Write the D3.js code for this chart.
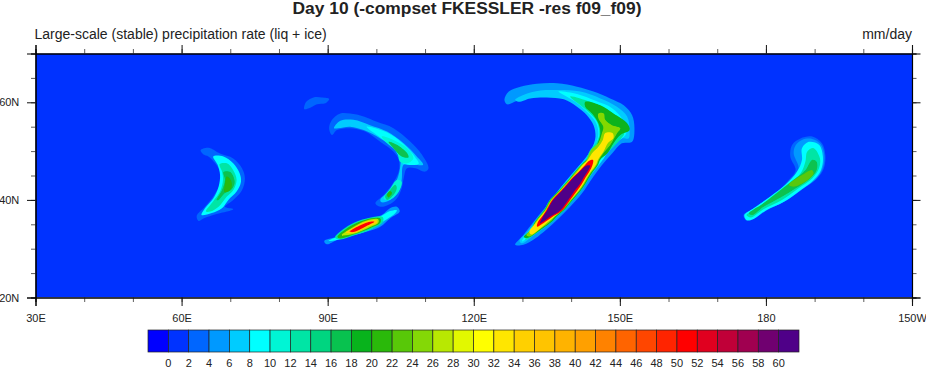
<!DOCTYPE html>
<html>
<head>
<meta charset="utf-8">
<script src="https://cdn.jsdelivr.net/npm/d3@7"></script>
<style>
  html, body { margin: 0; padding: 0; background: #fff; }
  svg { display: block; }
  text { font-family: "Liberation Sans", Arial, sans-serif; fill: #222; }
</style>
</head>
<body>
<div id="chart"></div>
<script>
// contour level edges printed on the label bar
const barLabels = d3.range(0, 62, 2);
const boxColors = ['#0000ff', '#0033ff', '#0066ff', '#0099ff', '#00ccff', '#00ffff', '#00f5d5', '#00e5a5',
  '#00d580', '#08c24f', '#08b31c', '#2ab90a', '#58c808', '#84d806', '#b8e802', '#e2f800',
  '#ffff00', '#ffe600', '#ffd000', '#ffc400', '#ffb300', '#ffa000', '#ff8200', '#ff6400',
  '#ff4600', '#ff2400', '#ff0000', '#e0001f', '#c00038', '#a00050', '#700070', '#4f0088'];

const lonMajor = [30, 60, 90, 120, 150, 180, 210];
const lonLabels = ['30E', '60E', '90E', '120E', '150E', '180', '150W'];
const latMajor = [20, 40, 60];
const latLabels = ['20N', '40N', '60N'];

// filled contours, [lon, lat]
const crescent2 = [[63.9,50.2],[65.5,50.7],[67.9,49.5],[70.6,48.5],[72.4,46.5],[73.0,44.4],[72.4,42.0],[70.6,40.0],[68.9,38.6],[70.6,38.1],[67.2,37.1],[64.5,36.2],[63.5,35.7],[63.1,36.7],[64.8,38.6],[66.5,40.7],[67.9,43.4],[67.9,45.8],[66.9,47.5],[65.5,48.9],[64.5,49.3]];
const crescent8 = [[66.5,48.9],[68.6,48.9],[70.6,47.5],[71.9,45.5],[72.2,43.7],[71.3,41.7],[69.6,40.0],[68.3,38.3],[66.2,37.3],[64.1,36.9],[64.8,38.3],[66.5,40.3],[67.6,42.7],[67.9,45.1],[67.4,47.2]];
const crescent12 = [[67.8,47.3],[69.3,47.5],[70.6,46.1],[71.3,44.1],[70.6,42.0],[69.3,40.7],[67.6,38.6],[65.9,37.6],[65.0,37.6],[66.5,39.7],[67.9,41.7],[68.5,44.1],[68.3,45.8]];
const crescent16 = [[68.6,45.7],[70.0,45.7],[70.9,43.7],[70.3,42.2],[68.9,41.4],[67.6,40.0],[67.2,40.0],[68.3,42.0],[68.9,44.1]];
const crescent20 = [[69.3,44.8],[70.1,44.1],[70.3,42.7],[69.6,41.7],[68.8,41.6],[68.9,43.1]];

const patch2 = [[85.2,58.6],[85.6,60.1],[87.1,61.0],[88.8,61.0],[90.3,60.7],[89.5,59.8],[87.8,59.6],[86.4,58.9]];

const arc2 = [[90.3,54.7],[90.9,56.4],[92.6,57.7],[94.6,57.7],[97.4,57.1],[100.1,56.0],[103.5,54.7],[107.0,51.9],[109.4,49.2],[110.7,46.5],[110.0,45.8],[108.0,46.5],[106.3,46.5],[105.6,44.4],[105.2,42.4],[104.2,40.3],[102.5,39.0],[100.8,38.6],[99.8,39.3],[101.5,41.0],[103.2,43.1],[104.6,45.8],[104.6,48.2],[103.5,49.9],[100.8,51.9],[97.7,54.0],[94.6,54.7],[91.9,54.3],[90.9,53.3]];
const arc6 = [[91.3,54.7],[92.6,56.2],[95.3,56.4],[98.7,55.3],[102.2,54.0],[105.6,51.6],[108.3,48.9],[109.6,47.2],[107.6,47.2],[105.6,47.2],[105.2,44.1],[104.6,41.7],[102.8,40.0],[101.1,39.5],[100.8,40.0],[102.5,41.7],[104.2,44.1],[104.9,46.8],[104.9,48.5],[103.5,50.6],[100.8,52.6],[97.4,54.3],[94.6,55.0],[92.2,54.7]];
const arc9 = [[98.0,55.0],[102.2,53.8],[105.6,51.4],[108.0,48.7],[108.7,47.4],[105.6,47.4],[104.9,48.4],[103.5,50.7],[100.8,52.8]];
const arc10 = [[101.1,53.0],[103.5,52.3],[106.3,50.6],[107.6,48.5],[106.3,47.5],[104.9,47.8],[104.2,49.9],[102.2,51.6]];
const arc16 = [[102.5,51.9],[104.2,51.3],[106.3,49.6],[106.6,48.7],[105.2,48.9],[103.5,50.6]];
const knot10 = [[101.5,40.3],[102.9,42.4],[104.2,44.1],[105.2,43.7],[104.6,41.7],[102.8,40.0]];
const knot14 = [[101.8,40.7],[102.8,42.0],[103.9,43.1],[104.2,42.4],[103.5,41.0],[102.2,40.0]];
const knot20 = [[102.2,41.0],[102.8,41.8],[103.2,41.4],[102.5,40.5]];

const streak4 = [[89.3,31.6],[91.9,32.5],[93.9,34.2],[96.0,35.5],[98.7,36.2],[101.1,36.9],[102.8,38.3],[104.2,38.6],[104.8,37.6],[102.8,36.2],[100.8,34.5],[98.1,33.5],[94.6,32.5],[91.9,31.8],[89.8,30.9]];
const streak8 = [[90.2,31.6],[92.6,32.8],[94.6,34.5],[97.4,35.9],[100.8,36.6],[102.8,37.7],[104.2,37.9],[103.9,37.3],[101.5,35.6],[98.7,33.9],[95.3,32.8],[91.9,31.8]];
const streak12 = [[91.5,32.3],[94.6,34.9],[98.0,36.2],[101.3,36.5],[101.3,35.4],[98.7,33.9],[95.3,32.7],[92.6,31.9]];
const streak20 = [[92.0,32.4],[94.6,34.6],[98.0,36.0],[100.8,36.2],[100.8,35.3],[98.7,34.2],[95.3,32.9],[92.6,32.1]];
const streak26 = [[92.9,32.8],[95.0,34.3],[98.0,35.8],[100.4,36.0],[100.4,35.3],[98.4,34.3],[95.2,33.0]];
const streak34 = [[93.7,33.3],[95.3,34.3],[98.0,35.6],[100.1,35.8],[100.1,35.3],[98.2,34.5],[95.3,33.2]];
const streak50 = [[94.5,33.5],[96.1,34.5],[98.7,35.5],[99.6,35.5],[97.9,34.6],[95.3,33.4]];

const hook4 = [[128.5,30.8],[130.2,32.8],[132.3,35.5],[134.0,37.6],[135.7,39.6],[137.4,42.0],[139.5,44.4],[141.5,46.8],[143.6,49.5],[144.6,51.3],[145.3,53.6],[145.0,55.7],[143.6,57.7],[141.2,59.4],[138.5,60.8],[135.0,61.3],[131.6,61.2],[128.9,60.3],[126.8,59.6],[126.3,60.5],[127.2,62.2],[129.6,63.2],[133.0,63.8],[137.1,63.9],[141.2,63.2],[144.6,62.2],[148.0,60.8],[150.8,59.4],[152.5,57.4],[153.0,54.7],[152.5,51.9],[150.4,51.6],[148.4,49.5],[146.3,47.1],[144.3,44.4],[142.2,41.3],[139.8,38.6],[137.4,36.2],[135.0,34.0],[132.6,32.1],[130.2,30.8]];
const hook6 = [[128.5,60.5],[130.2,61.5],[133.7,62.4],[137.4,62.5],[141.9,62.2],[146.0,60.8],[149.4,59.1],[151.5,57.1],[152.0,54.3],[151.8,52.6],[150.4,52.6],[148.0,50.2],[146.0,47.8],[143.9,45.1],[141.9,42.4],[139.5,39.6],[137.1,36.9],[134.7,34.5],[132.3,32.8],[129.9,31.1],[129.4,31.6],[131.3,33.8],[133.3,36.2],[135.0,38.6],[136.7,41.0],[138.8,43.7],[140.8,46.1],[142.9,48.5],[144.3,50.6],[145.0,53.0],[144.6,55.3],[143.2,57.4],[141.2,59.1],[138.5,60.6],[135.0,61.0],[131.6,60.8],[129.2,60.1]];
const hook9 = [[137.4,62.2],[141.2,61.7],[145.0,60.3],[148.4,58.8],[150.6,56.4],[151.3,53.6],[150.4,52.6],[148.4,51.3],[146.7,48.5],[144.6,45.8],[142.2,42.7],[139.8,39.6],[137.4,37.1],[134.7,34.6],[131.9,32.7],[129.9,31.5],[131.6,34.0],[133.7,36.6],[135.4,38.7],[137.1,41.2],[139.1,43.7],[141.2,46.1],[143.4,48.5],[145.0,51.3],[145.6,53.6],[145.0,56.0],[143.2,58.1],[140.9,60.1],[138.5,61.5]];
const hook13 = [[139.8,61.2],[143.9,60.1],[147.7,58.3],[150.1,56.0],[150.9,53.6],[150.1,52.4],[148.7,50.9],[146.0,48.2],[145.6,47.2],[144.5,45.7],[143.7,44.5],[142.9,43.1],[142.1,42.0],[140.4,40.0],[138.6,37.9],[137.2,36.7],[136.1,35.5],[134.3,34.2],[130.6,31.8],[131.8,34.2],[132.5,35.5],[133.4,36.7],[134.4,37.9],[135.6,40.0],[137.5,42.0],[138.5,43.1],[139.7,44.5],[140.7,45.7],[142.0,47.2],[143.0,48.2],[143.9,50.2],[145.3,51.9],[145.8,53.6],[145.3,56.0],[143.9,57.7],[141.9,59.4]];
const hook18 = [[142.9,60.1],[146.0,59.4],[148.7,57.7],[151.5,55.7],[152.0,54.3],[150.1,53.3],[148.7,51.6],[147.4,49.5],[145.9,48.2],[145.5,47.2],[144.4,45.7],[143.6,44.5],[142.8,43.1],[142.0,42.0],[140.3,40.0],[138.5,37.9],[137.1,36.7],[136.0,35.5],[134.2,34.2],[131.0,32.2],[130.3,32.4],[132.0,34.2],[132.6,35.5],[133.5,36.7],[134.5,37.9],[135.7,40.0],[137.6,42.0],[138.6,43.1],[139.8,44.5],[140.8,45.7],[142.1,47.2],[143.1,48.2],[144.6,49.2],[145.3,51.2],[146.0,53.6],[145.6,55.7],[144.3,57.7],[142.9,59.1]];
const hook24 = [[145.6,57.7],[146.7,57.7],[147.0,56.4],[148.4,55.3],[150.1,54.7],[149.4,53.6],[148.0,51.2],[146.8,49.8],[145.7,48.2],[145.3,47.2],[144.2,45.7],[143.4,44.5],[142.6,43.1],[141.8,42.0],[140.1,40.0],[138.3,37.9],[136.8,36.7],[135.7,35.5],[133.9,34.2],[131.4,32.5],[130.8,32.8],[132.1,34.2],[132.7,35.5],[133.6,36.7],[134.6,37.9],[135.8,40.0],[137.7,42.0],[138.7,43.1],[139.9,44.5],[140.9,45.7],[142.2,47.2],[143.2,48.2],[144.1,50.2],[145.6,51.7],[146.3,53.6],[146.6,55.0],[145.6,56.7]];
const hook32 = [[147.0,53.7],[148.5,53.7],[148.7,52.7],[147.6,51.7],[146.6,49.8],[145.5,48.2],[145.1,47.2],[144.0,45.7],[143.2,44.5],[142.4,43.1],[141.6,42.0],[139.9,40.0],[138.1,37.9],[136.7,36.7],[135.3,35.5],[133.7,34.2],[131.8,32.9],[131.4,33.4],[132.9,35.5],[133.8,36.7],[134.8,37.9],[136.0,40.0],[137.9,42.0],[138.9,43.1],[140.1,44.5],[141.2,45.7],[142.4,47.2],[143.4,48.2],[144.5,49.8],[145.6,50.9],[146.5,52.3]];
const hook50 = [[144.5,48.2],[144.4,47.2],[143.7,45.7],[142.9,44.5],[142.1,43.1],[141.3,42.0],[139.8,40.0],[138.2,37.9],[136.4,36.7],[134.7,35.5],[133.0,34.5],[133.2,35.5],[134.1,36.7],[134.9,37.9],[136.1,40.0],[138.0,42.0],[139.0,43.1],[140.2,44.5],[141.5,45.7],[142.9,47.2],[143.7,48.0]];
const hook60 = [[143.9,47.0],[143.3,45.7],[142.5,44.5],[141.7,43.1],[140.8,42.0],[139.4,40.0],[137.8,37.9],[135.9,36.7],[134.2,35.5],[133.6,35.2],[134.3,36.7],[135.1,37.9],[136.3,40.0],[138.2,42.0],[139.2,43.1],[140.4,44.5],[141.7,45.7],[143.1,47.0]];

const tail2 = [[175.4,36.9],[176.8,37.9],[179.5,39.6],[182.3,41.7],[184.7,44.1],[186.1,46.1],[185.0,48.9],[185.4,51.3],[187.1,52.6],[189.5,53.0],[191.5,51.6],[192.2,49.2],[191.9,46.5],[190.5,44.4],[187.8,42.4],[184.3,40.0],[180.2,37.9],[177.5,36.2],[176.1,35.7]];
const tail4 = [[185.7,49.5],[186.1,51.2],[187.4,52.3],[189.5,52.5],[191.2,51.5],[192.0,49.1],[191.6,46.3],[190.2,44.2],[187.4,42.2],[184.0,39.8],[180.1,37.9],[177.4,36.1],[176.1,35.8],[175.5,36.9],[177.2,38.1],[180.2,40.1],[183.0,42.2],[185.4,44.4],[186.7,46.5]];
const tail8 = [[175.6,36.9],[177.5,38.3],[180.9,40.7],[184.0,43.1],[186.4,45.8],[187.4,48.2],[187.4,50.6],[188.8,51.9],[190.9,51.3],[191.7,48.9],[191.3,46.1],[189.8,44.1],[187.1,42.0],[183.7,39.6],[179.9,37.8],[177.2,36.0],[176.0,35.9]];
const tail12 = [[176.0,36.9],[178.2,38.3],[181.6,41.0],[184.7,43.4],[187.1,45.4],[188.1,47.8],[188.5,49.9],[189.8,50.6],[191.1,48.5],[190.9,46.5],[189.5,44.4],[186.7,42.4],[183.3,40.0],[179.5,38.1],[176.9,36.4]];
const tail16 = [[176.5,37.2],[179.5,39.3],[183.0,42.0],[185.7,44.1],[188.1,46.1],[189.5,48.2],[190.4,47.8],[190.4,46.1],[188.8,44.2],[186.1,42.4],[183.0,40.5],[179.5,38.6],[177.2,36.9]];
const tail22 = [[184.7,43.1],[187.4,45.1],[189.5,46.1],[189.8,45.4],[188.1,43.7],[185.7,42.7]];

const contours = [
  [2, crescent2], [8, crescent8], [12, crescent12], [16, crescent16], [20, crescent20],
  [2, patch2],
  [2, arc2], [6, arc6], [9, arc9], [10, arc10], [16, arc16], [10, knot10], [14, knot14], [20, knot20],
  [4, streak4], [8, streak8], [12, streak12], [20, streak20], [26, streak26], [34, streak34], [50, streak50],
  [4, hook4], [6, hook6], [9, hook9], [13, hook13], [18, hook18], [24, hook24], [32, hook32], [50, hook50], [60, hook60],
  [2, tail2], [4, tail4], [8, tail8], [12, tail12], [16, tail16], [22, tail22]
];

const width = 926, height = 367;
const margin = { top: 53.5, right: 14, bottom: 69.5, left: 35.5 };

const svg = d3.select('#chart').append('svg')
  .attr('width', width)
  .attr('height', height);

const xScale = d3.scaleLinear().domain([30, 210]).range([margin.left, width - margin.right]);
const yScale = d3.scaleLinear().domain([20, 70]).range([height - margin.bottom, margin.top]);
const levelColor = v => boxColors[Math.floor(v / 2) + 1];

const defs = svg.append('defs');
defs.append('clipPath').attr('id', 'map-clip').append('rect')
  .attr('x', xScale(30)).attr('y', yScale(70))
  .attr('width', xScale(210) - xScale(30)).attr('height', yScale(20) - yScale(70));
defs.append('filter').attr('id', 'soft')
  .attr('x', 0).attr('y', 0).attr('width', 1).attr('height', 1)
  .append('feGaussianBlur').attr('stdDeviation', 0.75);

// map field
const map = svg.append('g').attr('clip-path', 'url(#map-clip)');
const field = map.append('g').attr('filter', 'url(#soft)');
field.append('rect')
  .attr('x', xScale(30)).attr('y', yScale(70))
  .attr('width', xScale(210) - xScale(30)).attr('height', yScale(20) - yScale(70))
  .attr('fill', levelColor(0));

const ringPath = d3.line()
  .x(d => xScale(d[0]))
  .y(d => yScale(d[1]))
  .curve(d3.curveCatmullRomClosed.alpha(0.5));

field.selectAll('.contour')
  .data(contours)
  .join('path')
  .attr('class', 'contour')
  .attr('d', d => ringPath(d[1]))
  .attr('fill', d => levelColor(d[0]));

// axes on all four sides, long ticks labelled, short ones only marks
const lonMinor = d3.range(30, 211, 10);
const latMinor = d3.range(20, 71, 5);

function addAxis(axisGen, scale, minor, major, labels, cls, transform, padding) {
  const g = svg.append('g').attr('class', cls + ' minor').attr('transform', transform);
  g.call(axisGen(scale).tickValues(minor).tickSize(4.5).tickFormat(''));
  g.selectAll('.tick line').attr('stroke', '#333').attr('stroke-width', 0.8);
  const m = svg.append('g').attr('class', cls).attr('transform', transform);
  m.call(axisGen(scale).tickValues(major).tickSize(8.5).tickPadding(padding)
    .tickFormat((d, i) => padding ? labels[i] : ''));
  m.selectAll('text').style('font-size', '11px');
  m.selectAll('.tick line').attr('stroke', '#111').attr('stroke-width', 1);
  svg.selectAll('.' + cls + ' .domain').attr('stroke', '#000').attr('stroke-width', 1.1);
}

addAxis(d3.axisBottom, xScale, lonMinor, lonMajor, lonLabels, 'x-bottom', `translate(0,${yScale(20)})`, 8.2);
addAxis(d3.axisTop, xScale, lonMinor, lonMajor, lonLabels, 'x-top', `translate(0,${yScale(70)})`, 0);
addAxis(d3.axisLeft, yScale, latMinor, latMajor, latLabels, 'y-left', `translate(${xScale(30)},0)`, 7.7);
addAxis(d3.axisRight, yScale, latMinor, latMajor, latLabels, 'y-right', `translate(${xScale(210)},0)`, 0);

// titles
svg.append('text')
  .attr('x', 467).attr('y', 14)
  .attr('text-anchor', 'middle')
  .style('font-size', '17.4px').style('font-weight', 'bold')
  .text('Day 10 (-compset FKESSLER -res f09_f09)');
svg.append('text')
  .attr('x', xScale(30) - 1).attr('y', 39)
  .style('font-size', '14px')
  .text('Large-scale (stable) precipitation rate (liq + ice)');
svg.append('text')
  .attr('x', xScale(210)).attr('y', 39)
  .attr('text-anchor', 'end')
  .style('font-size', '14px')
  .text('mm/day');

// label bar
const barScale = d3.scaleBand().domain(d3.range(boxColors.length)).range([148, 799]);
const barTop = 330, barHeight = 22;
const bar = svg.append('g').attr('class', 'label-bar');
bar.selectAll('rect')
  .data(boxColors)
  .join('rect')
  .attr('x', (d, i) => barScale(i))
  .attr('y', barTop)
  .attr('width', barScale.bandwidth())
  .attr('height', barHeight)
  .attr('fill', d => d)
  .attr('stroke', '#222')
  .attr('stroke-width', 0.7);
bar.selectAll('text')
  .data(barLabels)
  .join('text')
  .attr('x', (d, i) => barScale(i + 1))
  .attr('y', 367)
  .attr('text-anchor', 'middle')
  .style('font-size', '11px')
  .text(d => d);
</script>
</body>
</html>
